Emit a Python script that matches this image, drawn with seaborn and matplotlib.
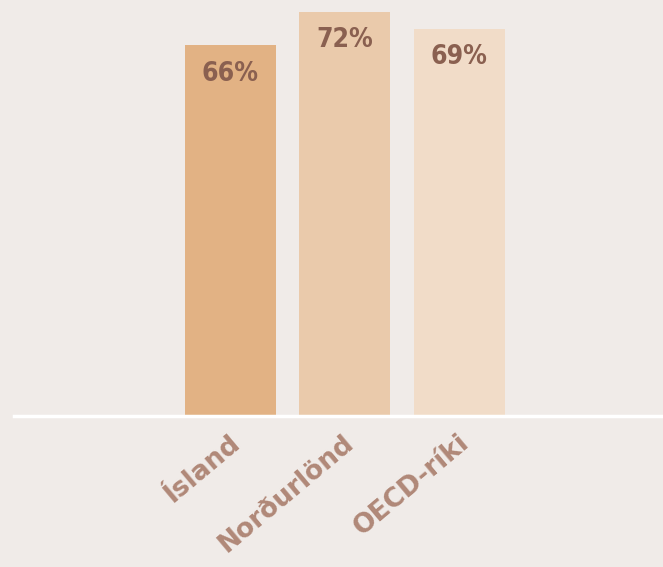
import matplotlib
matplotlib.use("Agg")
import matplotlib.pyplot as plt
import matplotlib.transforms as mtransforms
import pandas as pd
import seaborn as sns

categories = ["Ísland", "Norðurlönd", "OECD-ríki"]
values = [66, 72, 69]
bar_colors = ["#e2b284", "#eacaab", "#f1dcc8"]

bg = "#f0ebe8"
value_color = "#8a6050"
label_color = "#b08878"

sns.set_theme(style="white")
plt.rcParams["font.family"] = ["DejaVu Sans"]

df = pd.DataFrame({"land": categories, "hlutfall": values})

fig = plt.figure(figsize=(6.63, 5.67), dpi=100, facecolor=bg)
ax = fig.add_axes([14 / 663, 151 / 567, 1 - 14 / 663, 1 - 151 / 567])
ax.set_facecolor(bg)

sns.barplot(data=df, x="land", y="hlutfall", hue="land", palette=bar_colors,
            width=0.795, legend=False, ax=ax, saturation=1, linewidth=0)

ax.set_xlim(-1.89, 3.78)
ax.set_ylim(0, 74.1)

for i, v in enumerate(values):
    ax.annotate(f"{v}%", (i, v), xytext=(0, -11), textcoords="offset points",
                ha="center", va="top", fontsize=19, color=value_color,
                fontweight="bold", fontstretch="condensed")

for s in ["top", "right", "left"]:
    ax.spines[s].set_visible(False)
ax.spines["bottom"].set_color("white")
ax.spines["bottom"].set_linewidth(2.5)
ax.set_yticks([])
ax.set_xlabel("")
ax.set_ylabel("")
ax.tick_params(axis="x", length=0, pad=10)
ax.set_xticks(range(len(categories)))
ax.set_xticklabels(categories, rotation=40, ha="right", rotation_mode="anchor",
                   fontsize=19, fontweight="bold", color=label_color)
offset = mtransforms.ScaledTranslation(-2 / 100, 0, fig.dpi_scale_trans)
for lbl in ax.get_xticklabels():
    lbl.set_transform(lbl.get_transform() + offset)

fig.savefig("out.png", dpi=100, facecolor=bg)
